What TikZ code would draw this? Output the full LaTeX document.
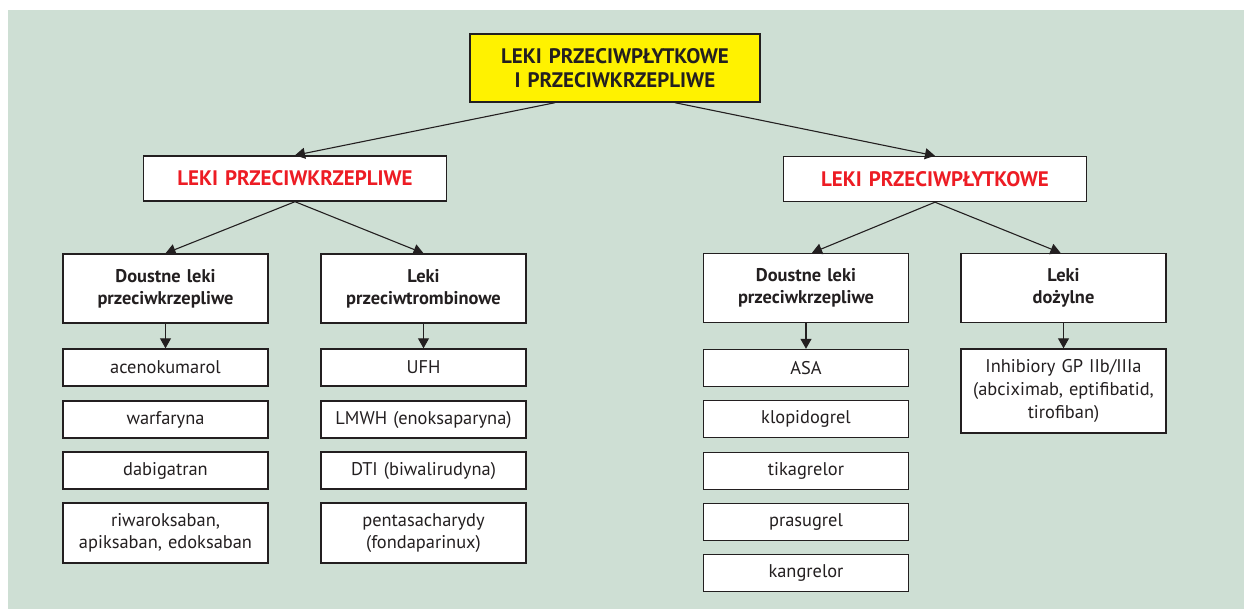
\documentclass[tikz,border=0pt]{standalone}
\usepackage{fontspec}
\setmainfont{PT Sans}
\usepackage{tikz}
\usetikzlibrary{positioning,arrows.meta}
\usepackage{xcolor}
\definecolor{tlo}{RGB}{206,223,212}
\definecolor{zolty}{RGB}{255,242,0}
\definecolor{czerwony}{RGB}{237,28,36}
\definecolor{ciemny}{RGB}{35,31,32}

\begin{document}
\begin{tikzpicture}[
  x=0.5pt, y=-0.5pt,
  box/.style={draw=ciemny, line width=0.7pt, fill=white, inner sep=0pt, align=center,
    text=ciemny, minimum width=102.5pt, text width=100pt},
  top/.style={box, fill=zolty, font=\fontsize{10.5}{12}\selectfont\bfseries,
    minimum width=145pt, text width=140pt, minimum height=34pt},
  group/.style={box, text=czerwony, font=\fontsize{10.5}{12}\selectfont\bfseries,
    minimum width=151.5pt, text width=148pt, minimum height=22.5pt},
  kind/.style={box, font=\fontsize{9.2}{11}\selectfont\bfseries, minimum height=34.5pt},
  drug/.style={box, font=\fontsize{9.2}{11.3}\selectfont, minimum height=18.5pt},
  arr/.style={-{Triangle[length=5pt,width=5.5pt]}, draw=ciemny, line width=0.55pt},
  >=Stealth
]
  % Background
  \useasboundingbox (0,0) rectangle (1244,609);
  \fill[tlo] (8,10) rectangle (1244,609);

  % Root
  \node[top] (root) at (615,68) {LEKI PRZECIWPŁYTKOWE\\I PRZECIWKRZEPLIWE};

  % Main groups
  \node[group] (koag) at (295,178.5) {LEKI PRZECIWKRZEPLIWE};
  \node[group] (plyt) at (935,179) {LEKI PRZECIWPŁYTKOWE};
  \draw[arr] ([xshift=-30pt]root.south) -- (koag.north);
  \draw[arr] ([xshift=30pt]root.south) -- (plyt.north);

  % Subgroups
  \node[kind] (doustneK) at (165.5,288.5) {Doustne leki\\przeciwkrzepliwe};
  \node[kind] (trombina) at (423.5,288.5) {Leki\\przeciwtrombinowe};
  \node[kind] (doustneP) at (806,288) {Doustne leki\\przeciwkrzepliwe};
  \node[kind] (dozylne) at (1063.5,288) {Leki\\dożylne};
  \draw[arr] (koag.south) -- (doustneK.north);
  \draw[arr] (koag.south) -- (trombina.north);
  \draw[arr] (plyt.south) -- ([xshift=3pt]doustneP.north);
  \draw[arr] (plyt.south) -- ([xshift=-1.5pt]dozylne.north);

  % Oral anticoagulants
  \node[drug] (aceno) at (165.5,367.5) {acenokumarol};
  \node[drug] (warf) at (165.5,419.5) {warfaryna};
  \node[drug] (dabi) at (165.5,470.5) {dabigatran};
  \node[drug, minimum height=30pt] (riwa) at (165.5,533) {riwaroksaban,\\apiksaban, edoksaban};
  \draw[arr] (doustneK.south) -- (aceno.north);

  % Antithrombins
  \node[drug] (ufh) at (423.5,367.5) {UFH};
  \node[drug] (lmwh) at (423.5,419.5) {LMWH (enoksaparyna)};
  \node[drug] (dti) at (423.5,470.5) {DTI (biwalirudyna)};
  \node[drug, minimum height=30pt] (penta) at (423.5,533) {pentasacharydy\\(fondaparinux)};
  \draw[arr] (trombina.south) -- (ufh.north);

  % Oral antiplatelets
  \node[drug] (asa) at (806,368) {ASA};
  \node[drug] (klopi) at (806,419) {klopidogrel};
  \node[drug] (tika) at (806,471) {tikagrelor};
  \node[drug] (prasu) at (806,522) {prasugrel};
  \node[drug] (kangr) at (806,573) {kangrelor};
  \draw[arr] (doustneP.south) -- (asa.north);

  % Intravenous
  \node[drug, minimum height=42pt] (gp) at (1063.5,391) {Inhibiory GP IIb/IIIa\\(abciximab, eptifibatid,\\tirofiban)};
  \draw[arr] (dozylne.south) -- (gp.north);
\end{tikzpicture}
\end{document}
